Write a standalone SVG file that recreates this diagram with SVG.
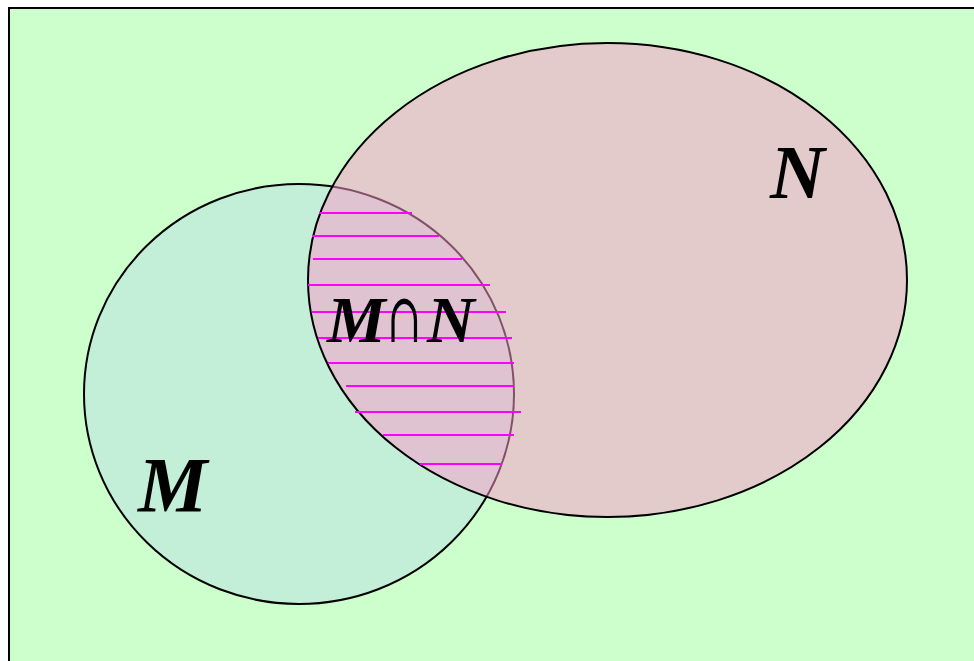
<svg xmlns="http://www.w3.org/2000/svg" width="974" height="661" viewBox="0 0 974 661">
  <style>
    .set { font-family: "Liberation Serif", "Times New Roman", serif; font-weight: bold; font-style: italic; fill: #000; }
    .op { font-family: "DejaVu Serif", "Liberation Serif", serif; font-weight: normal; font-style: normal; fill: #000; }
    .hatch line { stroke: #FF00FF; stroke-width: 2; }
  </style>
  <g id="universe">
    <rect x="9" y="8" width="1000" height="700" fill="#CCFFCC" stroke="#000" stroke-width="2"/>
  </g>
  <g id="set-M">
    <ellipse cx="299" cy="394" rx="215" ry="210" fill="#C3EFD8" stroke="#000" stroke-width="2"/>
  </g>
  <g id="set-N">
    <ellipse cx="607.5" cy="280" rx="299.5" ry="237" fill="#FA9CCA" fill-opacity="0.52"/>
    <ellipse cx="607.5" cy="280" rx="299.5" ry="237" fill="none" stroke="#000" stroke-width="2"/>
  </g>
  <g id="intersection" class="hatch">
    <line x1="319" y1="213" x2="412" y2="213"/>
    <line x1="312" y1="236" x2="439" y2="236"/>
    <line x1="313" y1="259" x2="462" y2="259"/>
    <line x1="308" y1="285" x2="490" y2="285"/>
    <line x1="312" y1="312" x2="506" y2="312"/>
    <line x1="318" y1="338" x2="512" y2="338"/>
    <line x1="328" y1="363" x2="514" y2="363"/>
    <line x1="346" y1="386" x2="514" y2="386"/>
    <line x1="355" y1="412" x2="521" y2="412"/>
    <line x1="383" y1="435" x2="514" y2="435"/>
    <line x1="420" y1="464" x2="502" y2="464"/>
  </g>
  <g id="labels">
    <text class="set" x="138" y="511" font-size="78">M</text>
    <text class="set" x="770" y="198" font-size="76">N</text>
    <text class="set" x="327" y="342" font-size="66">M</text>
    <text class="op" transform="translate(387 342) scale(0.62 1.05)" font-size="66">∩</text>
    <text class="set" x="427" y="342" font-size="66">N</text>
  </g>
</svg>
